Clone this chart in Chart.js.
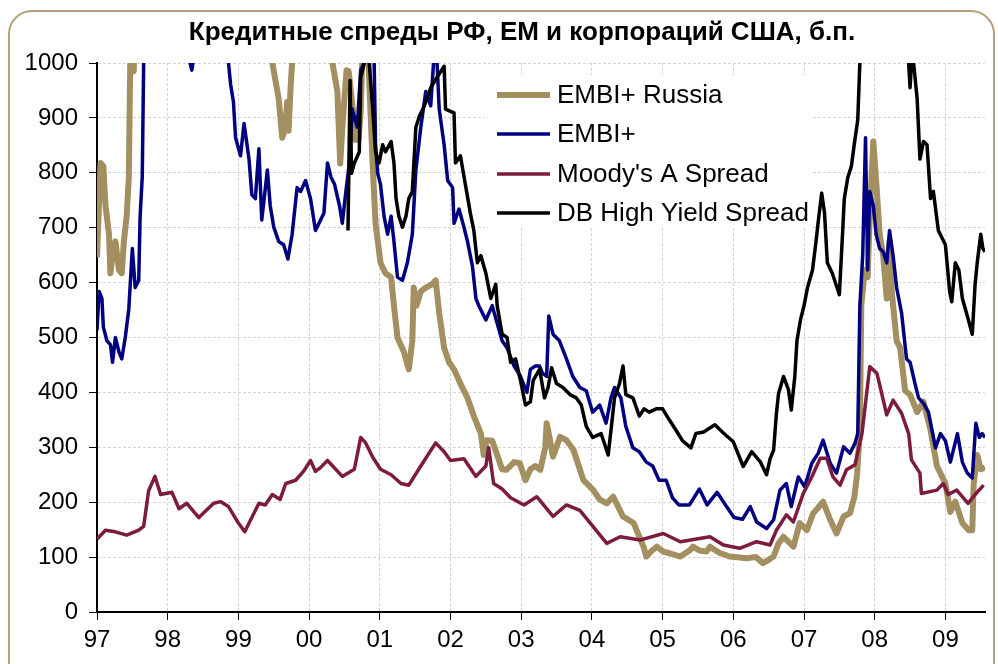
<!DOCTYPE html>
<html lang="ru">
<head>
<meta charset="utf-8">
<title>Кредитные спреды РФ, ЕМ и корпораций США</title>
<script src="https://cdn.jsdelivr.net/npm/chart.js@4.4.1/dist/chart.umd.min.js"></script>
<style>
    html, body { margin: 0; padding: 0; background: #ffffff; overflow: hidden; }
    #wrap { position: relative; width: 998px; height: 664px; }
    #frame {
        position: absolute; left: 8px; top: 10px; width: 987px; height: 720px;
        border: 2px solid #b4a37a; border-radius: 24px; box-sizing: border-box;
    }
    #chart { position: absolute; left: 0; top: 0; }
</style>
</head>
<body>
<div id="wrap">
    <div id="frame"></div>
    <canvas id="chart" width="998" height="664"></canvas>
</div>
<script>
// ================= Data (b.p.) =================
const chartTitle = 'Кредитные спреды РФ, ЕМ и корпораций США, б.п.';
const yearTicks = [1997, 1998, 1999, 2000, 2001, 2002, 2003, 2004, 2005, 2006, 2007, 2008, 2009];
const yearLabels = ['97', '98', '99', '00', '01', '02', '03', '04', '05', '06', '07', '08', '09'];
const seriesNames = ['EMBI+ Russia', 'EMBI+', "Moody's A Spread", 'DB High Yield Spread'];

// EMBI+ Russia (values above 1000 are off the chart and only estimated)
const russiaDates = [
    1997.00, 1997.05, 1997.09, 1997.12, 1997.17, 1997.19, 1997.23, 1997.26, 1997.31, 1997.35,
    1997.38, 1997.42, 1997.45, 1997.47, 1997.49, 1997.52, 1997.55, 1997.80, 1998.30, 1998.70,
    1999.00, 1999.40, 1999.48, 1999.57, 1999.62, 1999.66, 1999.69, 1999.71, 1999.74, 1999.76,
    1999.80, 2000.00, 2000.30, 2000.33, 2000.40, 2000.44, 2000.47, 2000.53, 2000.56, 2000.63,
    2000.65, 2000.70, 2000.73, 2000.75, 2000.80, 2000.84, 2000.90, 2000.94, 2001.01, 2001.08,
    2001.16, 2001.20, 2001.25, 2001.34, 2001.41, 2001.46, 2001.48, 2001.52, 2001.58, 2001.65,
    2001.74, 2001.79, 2001.84, 2001.91, 2001.98, 2002.05, 2002.14, 2002.24, 2002.33, 2002.43,
    2002.47, 2002.51, 2002.59, 2002.66, 2002.73, 2002.79, 2002.90, 2002.98, 2003.06, 2003.13,
    2003.20, 2003.27, 2003.34, 2003.36, 2003.38, 2003.45, 2003.55, 2003.64, 2003.74, 2003.88,
    2004.02, 2004.11, 2004.21, 2004.30, 2004.44, 2004.59, 2004.73, 2004.77, 2004.85, 2004.92,
    2005.01, 2005.10, 2005.25, 2005.39, 2005.43, 2005.52, 2005.62, 2005.67, 2005.80, 2005.95,
    2006.19, 2006.32, 2006.42, 2006.50, 2006.57, 2006.64, 2006.71, 2006.78, 2006.85, 2006.94,
    2007.04, 2007.13, 2007.20, 2007.27, 2007.37, 2007.46, 2007.56, 2007.65, 2007.71, 2007.75,
    2007.79, 2007.81, 2007.86, 2007.90, 2007.93, 2007.98, 2008.02, 2008.07, 2008.12, 2008.17,
    2008.21, 2008.24, 2008.31, 2008.36, 2008.43, 2008.50, 2008.60, 2008.69, 2008.79, 2008.88,
    2009.00, 2009.07, 2009.14, 2009.24, 2009.33, 2009.38, 2009.40, 2009.45, 2009.50, 2009.56
];
const russiaValues = [
    646, 818, 812, 740, 688, 617, 660, 675, 623, 617,
    675, 721, 792, 1000, 1010, 985, 1200, 1400, 1500, 3000,
    2500, 1100, 1000, 935, 864, 880, 929, 877, 960, 1000,
    1100, 1150, 1050, 1000, 948, 817, 883, 987, 985, 902,
    860, 860, 914, 1000, 1020, 1000, 812, 708, 636, 617,
    610, 558, 500, 474, 442, 494, 591, 558, 584, 591,
    597, 604, 545, 481, 455, 442, 416, 390, 357, 325,
    286, 313, 312, 286, 260, 259, 273, 271, 240, 260,
    266, 259, 300, 344, 332, 283, 319, 313, 295, 240,
    222, 205, 198, 210, 174, 162, 119, 101, 112, 119,
    110, 107, 101, 113, 119, 112, 110, 119, 108, 101,
    98, 100, 89, 95, 101, 125, 137, 128, 119, 162,
    149, 180, 190, 201, 168, 143, 174, 180, 208, 250,
    331, 558, 623, 610, 721, 857, 786, 688, 649, 571,
    675, 584, 494, 481, 403, 396, 364, 383, 331, 266,
    234, 182, 201, 162, 149, 149, 234, 286, 260, 263
];

// EMBI+
const embiDates = [
    1997.00, 1997.03, 1997.07, 1997.09, 1997.14, 1997.19, 1997.22, 1997.26, 1997.31, 1997.35,
    1997.40, 1997.45, 1997.50, 1997.54, 1997.59, 1997.61, 1997.64, 1997.66, 1997.70, 1998.00,
    1998.30, 1998.34, 1998.37, 1998.60, 1998.80, 1998.86, 1998.89, 1998.93, 1998.96, 1999.03,
    1999.08, 1999.15, 1999.19, 1999.24, 1999.29, 1999.33, 1999.41, 1999.45, 1999.50, 1999.57,
    1999.64, 1999.70, 1999.76, 1999.83, 1999.88, 1999.95, 2000.02, 2000.09, 2000.14, 2000.21,
    2000.26, 2000.31, 2000.36, 2000.43, 2000.47, 2000.52, 2000.57, 2000.61, 2000.68, 2000.73,
    2000.78, 2000.85, 2000.92, 2000.94, 2000.97, 2001.01, 2001.06, 2001.11, 2001.16, 2001.20,
    2001.25, 2001.32, 2001.39, 2001.46, 2001.51, 2001.58, 2001.65, 2001.72, 2001.76, 2001.78,
    2001.81, 2001.84, 2001.91, 2001.96, 2002.03, 2002.05, 2002.12, 2002.19, 2002.24, 2002.31,
    2002.36, 2002.40, 2002.45, 2002.50, 2002.59, 2002.66, 2002.73, 2002.80, 2002.90, 2002.99,
    2003.08, 2003.13, 2003.20, 2003.26, 2003.30, 2003.36, 2003.39, 2003.45, 2003.54, 2003.64,
    2003.73, 2003.83, 2003.92, 2004.01, 2004.11, 2004.20, 2004.27, 2004.32, 2004.41, 2004.48,
    2004.58, 2004.67, 2004.77, 2004.86, 2004.95, 2005.05, 2005.14, 2005.23, 2005.38, 2005.52,
    2005.63, 2005.77, 2005.89, 2006.01, 2006.13, 2006.24, 2006.33, 2006.47, 2006.57, 2006.66,
    2006.75, 2006.82, 2006.92, 2007.01, 2007.11, 2007.20, 2007.27, 2007.37, 2007.46, 2007.56,
    2007.65, 2007.72, 2007.76, 2007.79, 2007.83, 2007.87, 2007.90, 2007.93, 2007.98, 2008.02,
    2008.07, 2008.12, 2008.17, 2008.21, 2008.26, 2008.31, 2008.38, 2008.45, 2008.50, 2008.57,
    2008.62, 2008.69, 2008.76, 2008.86, 2008.93, 2009.00, 2009.07, 2009.17, 2009.24, 2009.31,
    2009.38, 2009.43, 2009.48, 2009.52, 2009.56
];
const embiValues = [
    513, 584, 571, 519, 494, 487, 455, 500, 474, 461,
    500, 552, 662, 591, 604, 721, 792, 1000, 1200, 1100,
    1010, 987, 1010, 1400, 1100, 1000, 961, 929, 864, 831,
    890, 825, 760, 753, 844, 714, 805, 740, 701, 675,
    669, 643, 688, 773, 766, 786, 753, 695, 708, 727,
    818, 792, 779, 740, 708, 766, 818, 916, 883, 987,
    1000, 1020, 1000, 851, 799, 779, 721, 688, 721, 675,
    610, 604, 636, 688, 805, 883, 948, 922, 1000, 1020,
    1000, 916, 851, 786, 773, 708, 734, 701, 675, 630,
    571, 558, 545, 532, 558, 526, 494, 481, 448, 429,
    400, 442, 448, 448, 435, 429, 539, 506, 494, 461,
    429, 409, 403, 364, 377, 344, 390, 409, 390, 338,
    299, 292, 273, 266, 240, 240, 208, 195, 195, 224,
    195, 218, 195, 172, 169, 192, 164, 152, 168, 222,
    234, 192, 246, 228, 271, 289, 313, 271, 253, 301,
    289, 307, 325, 558, 649, 864, 623, 766, 740, 688,
    662, 656, 636, 695, 649, 591, 545, 461, 455, 416,
    390, 380, 364, 299, 325, 312, 273, 325, 273, 253,
    244, 344, 318, 325, 318
];

// Moody's A Spread
const moodysDates = [
    1997.00, 1997.12, 1997.26, 1997.42, 1997.59, 1997.66, 1997.73, 1997.82, 1997.90, 1998.06,
    1998.16, 1998.27, 1998.44, 1998.65, 1998.75, 1998.86, 1999.00, 1999.09, 1999.19, 1999.29,
    1999.38, 1999.48, 1999.59, 1999.67, 1999.81, 1999.92, 2000.02, 2000.09, 2000.16, 2000.26,
    2000.47, 2000.64, 2000.73, 2000.80, 2000.90, 2001.01, 2001.16, 2001.30, 2001.41, 2001.58,
    2001.79, 2001.91, 2002.00, 2002.19, 2002.36, 2002.50, 2002.54, 2002.61, 2002.73, 2002.85,
    2003.04, 2003.22, 2003.45, 2003.64, 2003.83, 2004.02, 2004.21, 2004.40, 2004.68, 2005.01,
    2005.25, 2005.48, 2005.67, 2005.86, 2006.09, 2006.33, 2006.52, 2006.61, 2006.75, 2006.85,
    2006.99, 2007.11, 2007.23, 2007.32, 2007.41, 2007.51, 2007.60, 2007.72, 2007.82, 2007.93,
    2008.03, 2008.07, 2008.17, 2008.26, 2008.38, 2008.48, 2008.52, 2008.64, 2008.66, 2008.88,
    2008.97, 2009.04, 2009.16, 2009.32, 2009.42, 2009.54
];
const moodysValues = [
    133, 149, 146, 140, 149, 156, 221, 247, 214, 218,
    188, 198, 172, 198, 201, 192, 162, 146, 172, 198,
    195, 214, 205, 234, 240, 256, 276, 256, 263, 276,
    247, 260, 318, 308, 282, 260, 250, 234, 231, 266,
    308, 292, 276, 279, 247, 266, 299, 234, 224, 208,
    195, 210, 174, 195, 185, 155, 125, 137, 131, 143,
    128, 133, 137, 122, 116, 128, 122, 149, 177, 164,
    216, 246, 280, 280, 246, 231, 259, 268, 325, 447,
    435, 414, 359, 386, 362, 325, 277, 253, 216, 222,
    234, 214, 222, 198, 214, 231
];

// DB High Yield Spread (starts mid-2000)
const dbHyDates = [
    2000.55, 2000.58, 2000.60, 2000.64, 2000.71, 2000.73, 2000.78, 2000.82, 2000.85, 2000.90,
    2000.94, 2000.99, 2001.04, 2001.08, 2001.16, 2001.20, 2001.23, 2001.27, 2001.32, 2001.37,
    2001.41, 2001.46, 2001.51, 2001.56, 2001.63, 2001.72, 2001.81, 2001.91, 2001.93, 2002.00,
    2002.05, 2002.07, 2002.14, 2002.21, 2002.28, 2002.33, 2002.38, 2002.43, 2002.50, 2002.57,
    2002.64, 2002.66, 2002.73, 2002.80, 2002.85, 2002.92, 2002.99, 2003.06, 2003.13, 2003.17,
    2003.26, 2003.33, 2003.38, 2003.43, 2003.50, 2003.59, 2003.69, 2003.78, 2003.85, 2003.92,
    2004.01, 2004.13, 2004.23, 2004.27, 2004.32, 2004.39, 2004.44, 2004.48, 2004.58, 2004.67,
    2004.74, 2004.81, 2004.91, 2005.00, 2005.09, 2005.19, 2005.28, 2005.40, 2005.47, 2005.58,
    2005.74, 2005.86, 2006.00, 2006.14, 2006.26, 2006.38, 2006.47, 2006.52, 2006.57, 2006.61,
    2006.64, 2006.71, 2006.78, 2006.82, 2006.87, 2006.90, 2006.95, 2007.00, 2007.05, 2007.12,
    2007.17, 2007.21, 2007.25, 2007.29, 2007.33, 2007.40, 2007.50, 2007.55, 2007.57, 2007.62,
    2007.67, 2007.71, 2007.76, 2007.79, 2007.85, 2008.10, 2008.30, 2008.45, 2008.48, 2008.50,
    2008.52, 2008.55, 2008.60, 2008.64, 2008.69, 2008.74, 2008.79, 2008.83, 2008.90, 2009.00,
    2009.06, 2009.09, 2009.14, 2009.19, 2009.24, 2009.31, 2009.38, 2009.42, 2009.45, 2009.50,
    2009.53, 2009.56
];
const dbHyValues = [
    695, 968, 799, 818, 838, 974, 1000, 1010, 1000, 916,
    838, 818, 851, 838, 857, 818, 753, 721, 701, 721,
    753, 766, 883, 903, 922, 955, 974, 994, 916, 912,
    909, 818, 831, 779, 727, 695, 636, 649, 617, 571,
    597, 558, 506, 500, 455, 461, 422, 377, 383, 422,
    442, 390, 409, 445, 416, 409, 396, 390, 377, 338,
    318, 325, 286, 331, 390, 416, 448, 396, 390, 357,
    370, 364, 370, 370, 351, 331, 312, 299, 325, 328,
    341, 326, 310, 265, 292, 274, 250, 279, 295, 362,
    398, 429, 405, 368, 429, 494, 532, 558, 591, 623,
    675, 721, 763, 727, 636, 617, 578, 701, 753, 792,
    812, 851, 896, 1000, 1300, 1800, 1400, 1050, 1000, 955,
    1000, 1000, 935, 825, 857, 851, 753, 766, 695, 669,
    584, 565, 636, 623, 571, 539, 506, 597, 636, 688,
    662, 656
];

// ================= Chart =================
(function () {
    const fontFamily = "'Liberation Sans', Arial, sans-serif";
    const colors = ['#a38f60', '#000080', '#7d1b3e', '#000000'];
    const widths = [6, 3.5, 3.5, 3.5];

    const toPoints = (dates, values) => dates.map((x, i) => ({ x, y: values[i] }));
    const seriesPoints = [
        toPoints(russiaDates, russiaValues),
        toPoints(embiDates, embiValues),
        toPoints(moodysDates, moodysValues),
        toPoints(dbHyDates, dbHyValues)
    ];

    // title + in-plot legend box (white, covers the grid)
    const decorPlugin = {
        id: 'decor',
        beforeDatasetsDraw(chart) {
            const ctx = chart.ctx;
            ctx.save();
            ctx.fillStyle = '#ffffff';
            ctx.fillRect(485, 75, 327, 153);
            const rowY = [95, 134, 174, 213];
            seriesNames.forEach((name, i) => {
                ctx.strokeStyle = colors[i];
                ctx.lineWidth = widths[i];
                ctx.beginPath();
                ctx.moveTo(497, rowY[i]);
                ctx.lineTo(550, rowY[i]);
                ctx.stroke();
                ctx.fillStyle = '#000000';
                ctx.font = `26px ${fontFamily}`;
                ctx.textAlign = 'left';
                ctx.textBaseline = 'middle';
                ctx.fillText(name, 557, rowY[i] + 1);
            });
            ctx.restore();
        },
        afterDraw(chart) {
            const ctx = chart.ctx;
            ctx.save();
            ctx.fillStyle = '#000000';
            ctx.font = `bold 26px ${fontFamily}`;
            ctx.textAlign = 'center';
            ctx.textBaseline = 'middle';
            ctx.fillText(chartTitle, 522, 33);
            ctx.restore();
        }
    };

    new Chart(document.getElementById('chart'), {
        type: 'line',
        data: {
            datasets: seriesNames.map((label, i) => ({
                label,
                data: seriesPoints[i],
                borderColor: colors[i],
                backgroundColor: colors[i],
                borderWidth: widths[i],
                borderJoinStyle: 'round',
                pointRadius: 0,
                tension: 0,
                fill: false,
                order: 4 - i
            }))
        },
        options: {
            responsive: false,
            animation: false,
            devicePixelRatio: 1,
            layout: { padding: { top: 63, right: 13, bottom: 0, left: 0 } },
            plugins: {
                legend: { display: false },
                title: { display: false },
                tooltip: { enabled: false }
            },
            scales: {
                x: {
                    type: 'linear',
                    min: 1997,
                    max: 2009.56,
                    afterBuildTicks: scale => { scale.ticks = yearTicks.map(value => ({ value })); },
                    afterFit: scale => { scale.height = 52; },
                    grid: { color: '#d4d4d4', tickColor: '#000000', tickLength: 8 },
                    border: { color: '#000000', width: 2, dash: [3, 2] },
                    ticks: {
                        color: '#000000',
                        padding: 6,
                        maxRotation: 0,
                        autoSkip: false,
                        font: { family: fontFamily, size: 24 },
                        callback: value => yearLabels[yearTicks.indexOf(value)]
                    }
                },
                y: {
                    min: 0,
                    max: 1000,
                    afterFit: scale => { scale.width = 97; },
                    grid: { color: '#d4d4d4', tickColor: '#000000', tickLength: 8 },
                    border: { color: '#000000', width: 2, dash: [3, 2] },
                    ticks: {
                        stepSize: 100,
                        color: '#000000',
                        padding: 11,
                        font: { family: fontFamily, size: 24 },
                        callback: value => String(value)
                    }
                }
            }
        },
        plugins: [decorPlugin]
    });
})();
</script>
</body>
</html>
